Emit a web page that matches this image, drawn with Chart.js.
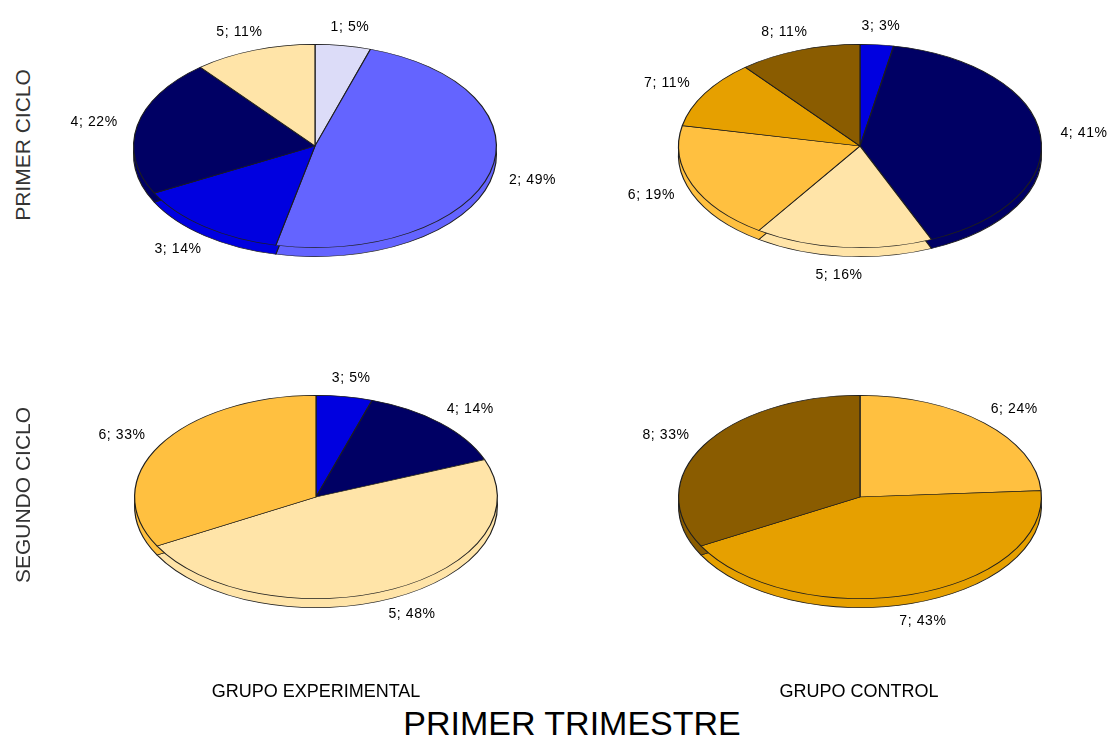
<!DOCTYPE html>
<html>
<head>
<meta charset="utf-8">
<script src="https://cdn.jsdelivr.net/npm/chart.js@4/dist/chart.umd.min.js"></script>
<style>
  html, body { margin: 0; padding: 0; background: #fff; overflow: hidden; }
  #stage { position: relative; width: 1111px; height: 738px; background: #fff; }
  canvas.pie { position: absolute; }
  .txt { position: absolute; font-family: "Liberation Sans", Arial, sans-serif; color: #000; white-space: nowrap; }
  .row { color: #333; font-size: 21px; transform: translate(-50%, -50%) rotate(-90deg); }
  .col { font-size: 18px; transform: translate(-50%, -50%); }
  .title { font-size: 34px; transform: translate(-50%, -50%); }
</style>
</head>
<body>
<div id="stage">
  <canvas id="pieA" class="pie" width="560" height="364"></canvas>
  <canvas id="pieB" class="pie" width="560" height="364"></canvas>
  <canvas id="pieC" class="pie" width="560" height="364"></canvas>
  <canvas id="pieD" class="pie" width="560" height="364"></canvas>
</div>
<script>
// ---- data ----
const rowLabels = ['PRIMER CICLO', 'SEGUNDO CICLO'];
const colLabels = ['GRUPO EXPERIMENTAL', 'GRUPO CONTROL'];
const mainTitle = 'PRIMER TRIMESTRE';

const expPrimerCats = ['1', '2', '3', '4', '5'];
const expPrimerVals = [5, 49, 14, 22, 11];

const ctlPrimerCats = ['3', '4', '5', '6', '7', '8'];
const ctlPrimerVals = [3, 41, 16, 19, 11, 11];

const expSegundoCats = ['3', '4', '5', '6'];
const expSegundoVals = [5, 14, 48, 33];

const ctlSegundoCats = ['6', '7', '8'];
const ctlSegundoVals = [24, 43, 33];

// ---- styling ----
const CAT_COLORS = {
  '1': '#DCDCF8',
  '2': '#6464FF',
  '3': '#0000E0',
  '4': '#000064',
  '5': '#FFE4A8',
  '6': '#FFC040',
  '7': '#E6A000',
  '8': '#8A5C00'
};
const TILT = 102 / 182;   // vertical squash of the pie disc
const DEPTH = 9;          // thickness of the disc edge, px
const EDGE = '#1e1e1e';

// Squash the pie into an ellipse and give it a thin extruded rim.
const tiltedDisc = {
  id: 'tiltedDisc',
  beforeDatasetsDraw(chart) {
    const ctx = chart.ctx;
    const meta = chart.getDatasetMeta(0);
    const a0 = meta.data[0];
    const cx = a0.x, cy = a0.y;
    ctx.save();
    ctx.translate(cx, cy);
    ctx.scale(1, TILT);
    ctx.translate(-cx, -cy);
    // rim: the same slices pushed down by the disc thickness
    ctx.save();
    ctx.translate(0, DEPTH / TILT);
    meta.data.forEach(el => el.draw(ctx));
    ctx.restore();
  },
  afterDatasetsDraw(chart) {
    chart.ctx.restore();
  }
};

// "category; value%" labels on a wider ellipse around the disc.
const sliceLabels = {
  id: 'sliceLabels',
  afterDraw(chart) {
    const ctx = chart.ctx;
    const meta = chart.getDatasetMeta(0);
    const cats = chart.data.labels;
    const vals = chart.data.datasets[0].data;
    ctx.save();
    ctx.font = '14px "Liberation Sans", Arial, sans-serif';
    try { ctx.letterSpacing = '0.6px'; } catch (e) {}
    ctx.fillStyle = '#000';
    ctx.textAlign = 'center';
    ctx.textBaseline = 'middle';
    meta.data.forEach((el, i) => {
      const mid = (el.startAngle + el.endAngle) / 2;
      const ux = Math.cos(mid), uy = Math.sin(mid);
      const rx = el.outerRadius + 44;
      const ry = el.outerRadius * TILT + 19;
      const text = cats[i] + '; ' + vals[i] + '%';
      const px = el.x + rx * ux;
      const py = el.y + ry * uy + (uy > 0 ? DEPTH * uy : 0);
      ctx.fillText(text, px, py);
    });
    ctx.restore();
  }
};

function makePie(id, cats, vals, cx, cy) {
  const cv = document.getElementById(id);
  cv.style.left = (cx - cv.width / 2) + 'px';
  cv.style.top = (cy - cv.height / 2) + 'px';
  return new Chart(cv, {
    type: 'pie',
    data: {
      labels: cats,
      datasets: [{
        data: vals,
        backgroundColor: cats.map(c => CAT_COLORS[c]),
        borderColor: EDGE,
        borderWidth: 1.2,
        clip: false
      }]
    },
    options: {
      responsive: false,
      animation: false,
      events: [],
      layout: { padding: { left: 98, right: 98, top: 0, bottom: 0 } },
      plugins: { legend: { display: false }, tooltip: { enabled: false } }
    },
    plugins: [tiltedDisc, sliceLabels]
  });
}

makePie('pieA', expPrimerCats, expPrimerVals, 315, 146);
makePie('pieB', ctlPrimerCats, ctlPrimerVals, 860, 146);
makePie('pieC', expSegundoCats, expSegundoVals, 316, 497);
makePie('pieD', ctlSegundoCats, ctlSegundoVals, 860, 497);

// ---- surrounding text ----
const stage = document.getElementById('stage');
function addText(str, cls, x, y) {
  const d = document.createElement('div');
  d.className = 'txt ' + cls;
  d.textContent = str;
  d.style.left = x + 'px';
  d.style.top = y + 'px';
  stage.appendChild(d);
}
addText(rowLabels[0], 'row', 23, 145);
addText(rowLabels[1], 'row', 23, 495);
addText(colLabels[0], 'col', 316, 691);
addText(colLabels[1], 'col', 859, 691);
addText(mainTitle, 'title', 572, 723);
</script>
</body>
</html>
